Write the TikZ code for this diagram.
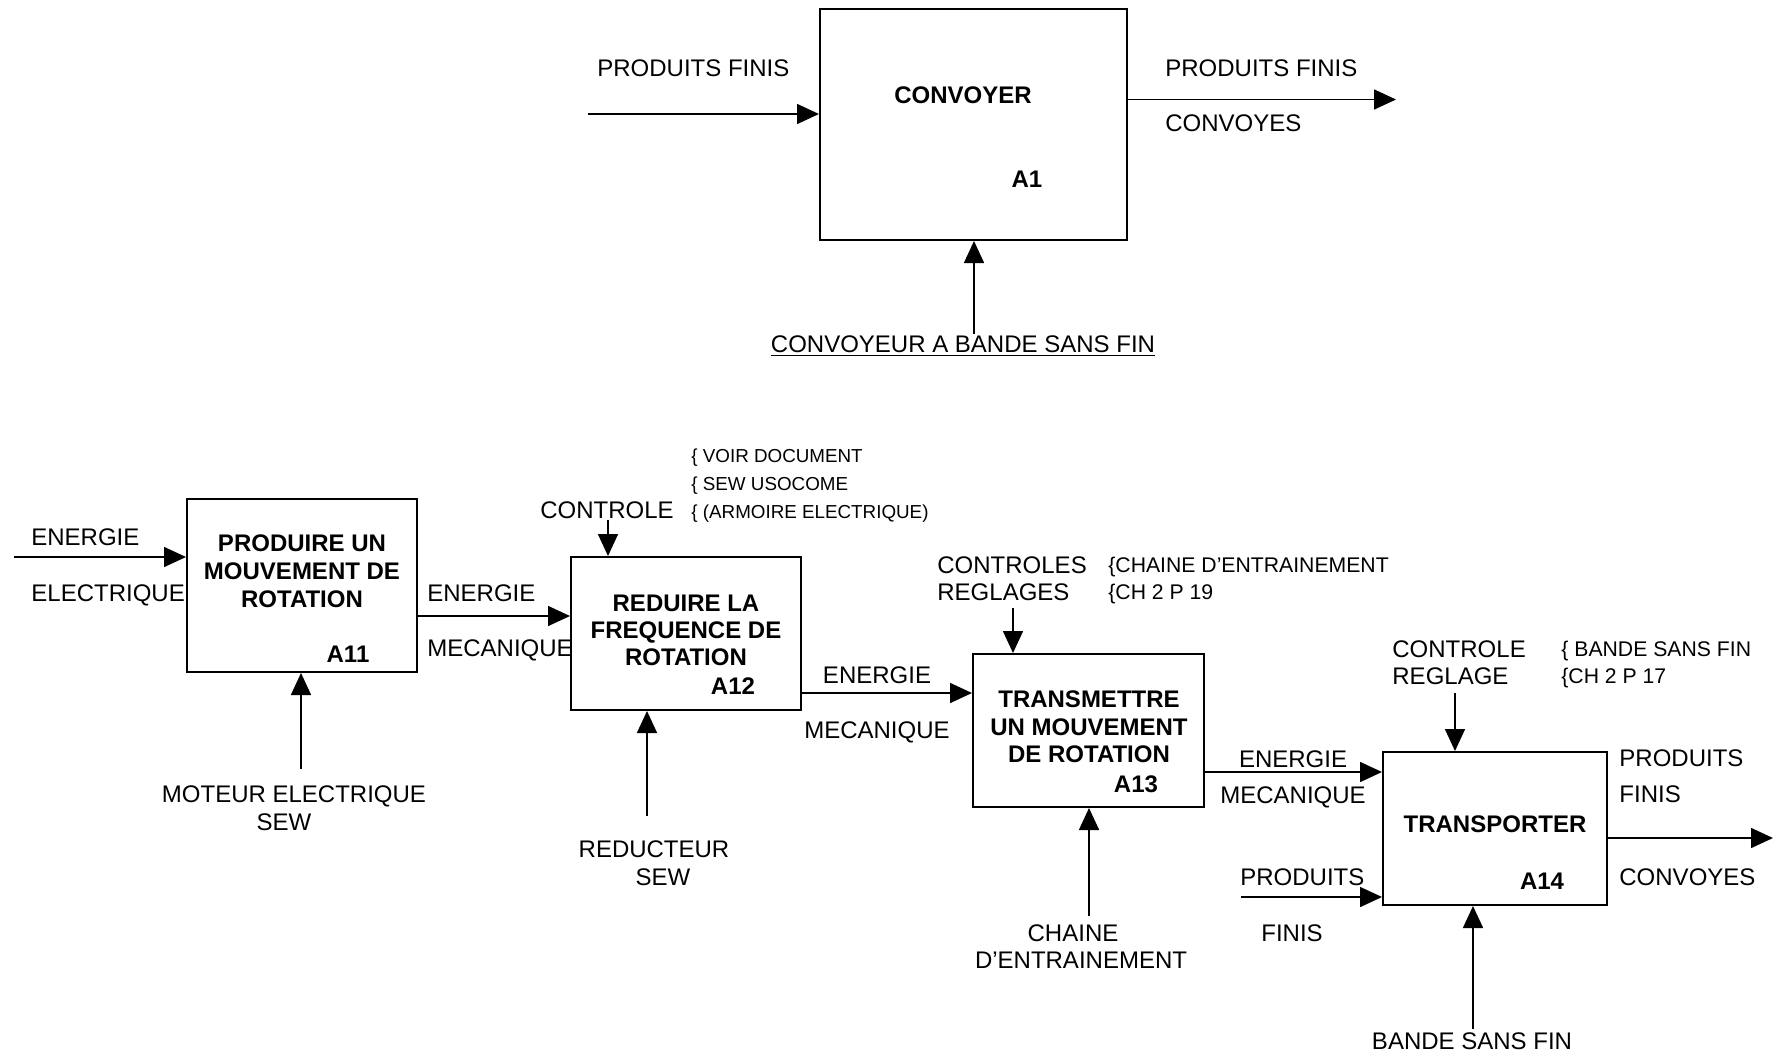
\documentclass[tikz,border=0pt]{standalone}
\usepackage{fontspec}
\setmainfont{Liberation Sans}
\usepackage{tikz}
\usetikzlibrary{arrows.meta}
\tikzset{box node/.style={draw,line width=1pt,inner sep=0pt,fill=white},
         flow/.style={line width=0.8pt,-{Triangle[length=11pt,width=10pt]}},
         lbl/.style={inner sep=0pt,text height=8.6pt,text depth=0pt,font=\fontsize{12}{14}\selectfont},
         title/.style={lbl,font=\fontsize{12}{14}\selectfont\bfseries},
         note/.style={inner sep=0pt,text height=6.7pt,text depth=0pt,font=\fontsize{9.4}{11}\selectfont},
         big note/.style={inner sep=0pt,text height=7.5pt,text depth=0pt,font=\fontsize{10.6}{12}\selectfont}}

\begin{document}
\begin{tikzpicture}[x=0.5pt,y=-0.5pt]
            \useasboundingbox (0,0) rectangle (1773,1055);

            % top level
            \node[box node,minimum width=153.5pt,minimum height=115.5pt] (A1) at (973.5,124.5) {};
            \node[title] (t1) at (963,95) {CONVOYER};
            \node[title] (n1) at (1027,179) {A1};
            \coordinate (in1) at (588,114);
            \coordinate (out1) at (1396,99.5);
            \coordinate (m1) at (974,334);
            \draw[flow] (in1) -- (in1 -| A1.west);
            \draw[flow] (A1.east |- out1) -- (out1);
            \draw[flow] (m1) -- (m1 |- A1.south);
            \node[lbl,anchor=west] (pf1) at (597,68) {PRODUITS FINIS};
            \node[lbl,anchor=west] (pf2) at (1165,68) {PRODUITS FINIS};
            \node[lbl,anchor=west] (cv1) at (1165,123) {CONVOYES};
            \node[lbl] (mec1) at (963,344) {\underline{CONVOYEUR A BANDE SANS FIN}};

            % boxes of the decomposition
            \node[box node,minimum width=115pt,minimum height=86.5pt] (A11) at (302,585.5) {};
            \node[box node,minimum width=115pt,minimum height=76.5pt] (A12) at (686,633.5) {};
            \node[box node,minimum width=115.5pt,minimum height=76.5pt] (A13) at (1088.5,730.5) {};
            \node[box node,minimum width=112pt,minimum height=76.5pt] (A14) at (1495,828.5) {};

            \node[title] (t11a) at (302,543) {PRODUIRE UN};
            \node[title] (t11b) at (302,571) {MOUVEMENT DE};
            \node[title] (t11c) at (302,599) {ROTATION};
            \node[title] (n11) at (348,654) {A11};
            \node[title] (t12a) at (686,603) {REDUIRE LA};
            \node[title] (t12b) at (686,630) {FREQUENCE DE};
            \node[title] (t12c) at (686,657) {ROTATION};
            \node[title] (n12) at (733,686) {A12};
            \node[title] (t13a) at (1089,699) {TRANSMETTRE};
            \node[title] (t13b) at (1089,727) {UN MOUVEMENT};
            \node[title] (t13c) at (1089,754) {DE ROTATION};
            \node[title] (n13) at (1136,784) {A13};
            \node[title] (t14) at (1495,824) {TRANSPORTER};
            \node[title] (n14) at (1542,881) {A14};

            % free ends of the arrows
            \coordinate (in11) at (14,557);
            \coordinate (e12) at (0,616);
            \coordinate (e13) at (0,693);
            \coordinate (e14) at (0,772);
            \coordinate (in14) at (1241,897);
            \coordinate (out14) at (1773,838);
            \coordinate (c12) at (608,520);
            \coordinate (c13) at (1013,608);
            \coordinate (c14) at (1455,693);
            \coordinate (m11) at (301,769);
            \coordinate (m12) at (647,816);
            \coordinate (m13) at (1089,916);
            \coordinate (m14) at (1473,1029);

            \draw[flow] (in11) -- (in11 -| A11.west);
            \draw[flow] (A11.east |- e12) -- (A12.west |- e12);
            \draw[flow] (A12.east |- e13) -- (A13.west |- e13);
            \draw[flow] (A13.east |- e14) -- (A14.west |- e14);
            \draw[flow] (in14) -- (in14 -| A14.west);
            \draw[flow] (A14.east |- out14) -- (out14);
            \draw[flow] (c12) -- (c12 |- A12.north);
            \draw[flow] (c13) -- (c13 |- A13.north);
            \draw[flow] (c14) -- (c14 |- A14.north);
            \draw[flow] (m11) -- (m11 |- A11.south);
            \draw[flow] (m12) -- (m12 |- A12.south);
            \draw[flow] (m13) -- (m13 |- A13.south);
            \draw[flow] (m14) -- (m14 |- A14.south);

            % labels
            \node[lbl,anchor=west] (ee1) at (31,537) {ENERGIE};
            \node[lbl,anchor=west] (ee2) at (31,593) {ELECTRIQUE};
            \node[lbl,anchor=west] (em1) at (427,593) {ENERGIE};
            \node[lbl,anchor=west] (em2) at (427,648) {MECANIQUE};
            \node[lbl] (em3) at (877,675) {ENERGIE};
            \node[lbl] (em4) at (877,730) {MECANIQUE};
            \node[lbl] (em5) at (1293,759) {ENERGIE};
            \node[lbl] (em6) at (1293,795) {MECANIQUE};
            \node[lbl,anchor=west] (pf3) at (1240,877) {PRODUITS};
            \node[lbl,anchor=west] (pf4) at (1261,933) {FINIS};
            \node[lbl,anchor=west] (pf5) at (1619,758) {PRODUITS};
            \node[lbl,anchor=west] (pf6) at (1619,794) {FINIS};
            \node[lbl,anchor=west] (cv2) at (1619,877) {CONVOYES};

            \node[lbl] (ct12) at (607,510) {CONTROLE};
            \node[note,anchor=west] (r12a) at (691,456) {\{ VOIR DOCUMENT};
            \node[note,anchor=west] (r12b) at (691,484) {\{ SEW USOCOME};
            \node[note,anchor=west] (r12c) at (691,512) {\{ (ARMOIRE ELECTRIQUE)};
            \node[lbl,anchor=west] (ct13a) at (937,565) {CONTROLES};
            \node[lbl,anchor=west] (ct13b) at (937,592) {REGLAGES};
            \node[big note,anchor=west] (r13a) at (1108,565) {\{CHAINE D’ENTRAINEMENT};
            \node[big note,anchor=west] (r13b) at (1108,592) {\{CH 2 P 19};
            \node[lbl,anchor=west] (ct14a) at (1392,649) {CONTROLE};
            \node[lbl,anchor=west] (ct14b) at (1392,676) {REGLAGE};
            \node[big note,anchor=west] (r14a) at (1561,649) {\{ BANDE SANS FIN};
            \node[big note,anchor=west] (r14b) at (1561,676) {\{CH 2 P 17};

            \node[lbl] (mc11a) at (294,794) {MOTEUR ELECTRIQUE};
            \node[lbl] (mc11b) at (284,822) {SEW};
            \node[lbl] (mc12a) at (654,849) {REDUCTEUR};
            \node[lbl] (mc12b) at (663,877) {SEW};
            \node[lbl] (mc13a) at (1073,933) {CHAINE};
            \node[lbl] (mc13b) at (1081,960) {D’ENTRAINEMENT};
            \node[lbl] (mc14) at (1472,1041) {BANDE SANS FIN};
        \end{tikzpicture}
\end{document}
